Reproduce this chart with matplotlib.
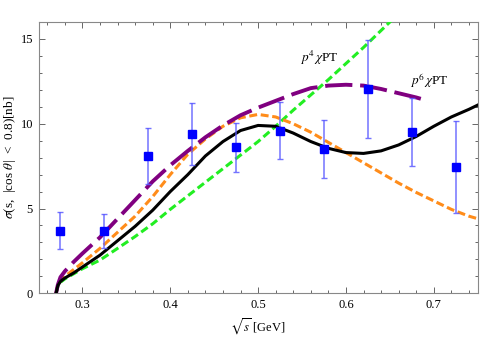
import matplotlib
matplotlib.use("Agg")
import matplotlib.pyplot as plt
from matplotlib.ticker import MultipleLocator

# --- data -------------------------------------------------------------
data_x = [0.275, 0.325, 0.375, 0.425, 0.475, 0.525, 0.575, 0.625, 0.675, 0.725]
data_y = [3.7, 3.7, 8.1, 9.4, 8.6, 9.6, 8.5, 12.05, 9.5, 7.45]
data_err = [1.1, 1.0, 1.65, 1.85, 1.45, 1.7, 1.7, 2.9, 2.0, 2.7]

black_x = [0.27, 0.272, 0.275, 0.28, 0.29, 0.30, 0.32, 0.34, 0.36, 0.38, 0.40, 0.42,
           0.44, 0.46, 0.48, 0.50, 0.52, 0.54, 0.56, 0.58, 0.60, 0.62, 0.64, 0.66,
           0.68, 0.70, 0.72, 0.74, 0.75]
black_y = [0.0, 0.45, 0.7, 0.9, 1.2, 1.55, 2.25, 3.1, 3.95, 4.9, 6.0, 7.0,
           8.1, 8.95, 9.6, 9.9, 9.85, 9.45, 8.95, 8.55, 8.3, 8.25, 8.4, 8.75,
           9.25, 9.85, 10.4, 10.85, 11.1]

orange_x = [0.27, 0.272, 0.275, 0.28, 0.29, 0.30, 0.32, 0.34, 0.36, 0.38, 0.40, 0.42,
            0.44, 0.46, 0.48, 0.50, 0.52, 0.54, 0.56, 0.58, 0.60, 0.62, 0.64, 0.66,
            0.68, 0.70, 0.72, 0.74, 0.75]
orange_y = [0.0, 0.5, 0.75, 1.0, 1.4, 1.8, 2.65, 3.6, 4.55, 5.7, 7.0, 8.2,
            9.1, 9.85, 10.35, 10.55, 10.4, 10.0, 9.5, 8.9, 8.3, 7.7, 7.1, 6.5,
            5.95, 5.45, 4.95, 4.55, 4.4]

green_x = [0.27, 0.272, 0.275, 0.28, 0.29, 0.30, 0.32, 0.34, 0.36, 0.38, 0.40, 0.42,
           0.44, 0.46, 0.48, 0.50, 0.52, 0.54, 0.56, 0.58, 0.60, 0.62, 0.64, 0.66]
green_y = [0.0, 0.4, 0.65, 0.85, 1.15, 1.45, 1.96, 2.65, 3.35, 4.1, 4.95, 5.75,
           6.55, 7.35, 8.15, 8.95, 9.85, 10.8, 11.7, 12.6, 13.55, 14.5, 15.5, 16.5]

purple_x = [0.27, 0.272, 0.275, 0.28, 0.29, 0.30, 0.32, 0.34, 0.36, 0.38, 0.40, 0.42,
            0.44, 0.46, 0.48, 0.50, 0.52, 0.54, 0.56, 0.58, 0.60, 0.62, 0.64, 0.66,
            0.68, 0.69]
purple_y = [0.0, 0.5, 0.95, 1.3, 1.85, 2.35, 3.3, 4.4, 5.5, 6.6, 7.55, 8.4,
            9.2, 9.9, 10.5, 10.95, 11.35, 11.75, 12.1, 12.25, 12.3, 12.25, 12.05, 11.8,
            11.55, 11.4]

x_major = [0.3, 0.4, 0.5, 0.6, 0.7]
x_major_labels = ["0.3", "0.4", "0.5", "0.6", "0.7"]
y_major = [0, 5, 10, 15]
y_major_labels = ["0", "5", "10", "15"]

# --- style ------------------------------------------------------------
plt.rcParams['font.family'] = ['Liberation Serif', 'DejaVu Serif']
plt.rcParams['mathtext.fontset'] = 'stix'

fig = plt.figure(figsize=(5.0, 3.38), dpi=100)
ax = fig.add_axes([0.077, 0.1322, 0.8784, 0.8027])

lw = 2.2
ax.plot(green_x, green_y, color='#22ee22', lw=lw, dashes=(2.6, 1.3), zorder=3)
ax.plot(orange_x, orange_y, color='#ff8c1a', lw=lw, dashes=(2.6, 1.2), zorder=3)
ax.plot(purple_x, purple_y, color='#800080', lw=2.8, dashes=(7.0, 2.0), zorder=3)
ax.plot(black_x, black_y, color='black', lw=lw, zorder=4)

ax.errorbar(data_x, data_y, yerr=data_err, fmt='none', ecolor='#5a5aff',
            elinewidth=1.1, capsize=2.5, capthick=1.0, alpha=0.85, zorder=5)
ax.plot(data_x, data_y, 's', color='#0000ff', markersize=6, zorder=6)

ax.text(0.5695, 13.9, r"$p^4\,\chi$PT", fontsize=9.5, ha='center', va='center')
ax.text(0.6948, 12.55, r"$p^6\,\chi$PT", fontsize=9.5, ha='center', va='center')

ax.set_xlim(0.25, 0.75)
ax.set_ylim(0, 16)
ax.set_xticks(x_major)
ax.set_xticklabels(x_major_labels)
ax.set_yticks(y_major)
ax.set_yticklabels(y_major_labels)
ax.xaxis.set_minor_locator(MultipleLocator(0.02))
ax.yaxis.set_minor_locator(MultipleLocator(1))
ax.tick_params(which='both', direction='in', top=True, right=True,
               color='#666666', labelsize=9, width=0.7)
ax.tick_params(which='major', length=4, pad=4)
ax.tick_params(which='minor', length=2.2)
for sp in ax.spines.values():
    sp.set_color('#888888')
    sp.set_linewidth(0.8)

ax.set_xlabel(r"$\sqrt{s}$ [GeV]", fontsize=9)
ax.set_ylabel(r"$\sigma$(s,  |cos $\theta$|  <  0.8)[nb]", fontsize=9.5)
ax.xaxis.set_label_coords(0.5, -0.085)
ax.yaxis.set_label_coords(-0.047, 0.5)

fig.savefig("out.png", dpi=100)
